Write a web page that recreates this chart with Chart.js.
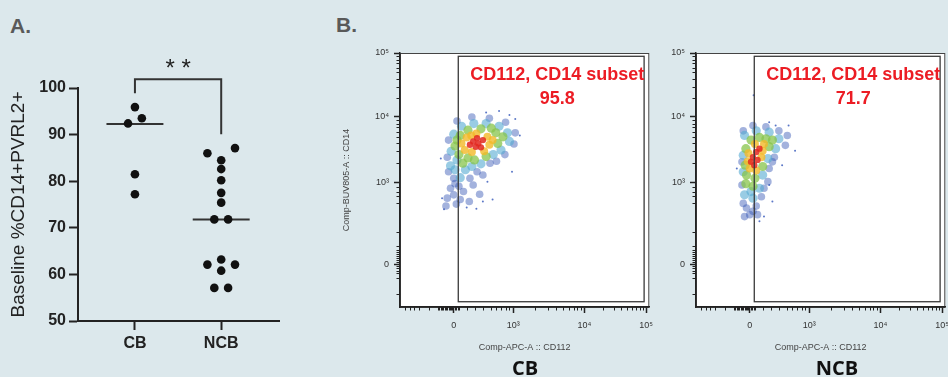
<!DOCTYPE html>
<html><head><meta charset="utf-8">
<script src="https://cdn.jsdelivr.net/npm/chart.js@4.4.1/dist/chart.umd.min.js"></script>
<style>
html,body{margin:0;padding:0;width:948px;height:377px;overflow:hidden;background:#dce8ec;font-family:"Liberation Sans",Arial,sans-serif;position:relative;}
canvas{position:absolute;top:0;}
.lbl{position:absolute;font-weight:bold;color:#595959;font-size:21px;line-height:24px;}
.grp{position:absolute;font-family:"Open Sans",sans-serif;font-weight:bold;font-size:20px;line-height:24px;color:#111;transform:translateX(-50%);white-space:nowrap;}
</style></head><body>
<div class="lbl" style="left:10px;top:14px">A.</div>
<div class="lbl" style="left:336px;top:13px">B.</div>
<canvas id="chartA" style="left:0px;width:330px;height:377px" width="330" height="377"></canvas>
<canvas id="chartCB" style="left:330px;width:330px;height:377px" width="330" height="377"></canvas>
<canvas id="chartNCB" style="left:626px;width:330px;height:377px" width="330" height="377"></canvas>
<div class="grp" style="left:525px;top:356px">CB</div>
<div class="grp" style="left:837px;top:356px">NCB</div>
<script>
// ---------- Panel A data ----------
const categories = ['CB', 'NCB'];
const cbValues  = [95.9, 93.5, 92.4, 81.5, 77.2];
const cbJitter  = [0, 0.08, -0.08, 0, 0];
const ncbValues = [87.1, 86.0, 84.5, 82.6, 80.2, 77.5, 75.4, 71.8, 71.8, 63.2, 62.1, 62.1, 60.8, 57.1, 57.1];
const ncbJitter = [0.16, -0.16, 0, 0, 0, 0, 0, -0.08, 0.08, 0, -0.16, 0.16, 0, -0.08, 0.08];
const medians   = [92.3, 71.8];
const yTicksA   = [50, 60, 70, 80, 90, 100];
const significance = '* *';
const bracketLevels = [101.9, 98.9, 90.1]; // top, CB end, NCB end

// ---------- Panel B data (axis in display decades) ----------
const flowTickValsX = [0, 0.92, 2.02, 2.97];
const flowTickValsY = [0, 1.23, 2.23, 3.2];
const flowTickLabels = ['0', '10³', '10⁴', '10⁵'];
const flowMinorX = [-0.76,-0.68,-0.61,-0.53,-0.38,-0.24,-0.22,-0.2,-0.18,-0.16,-0.14,-0.12,-0.1,-0.08,-0.06,-0.04,-0.02,0.02,0.04,0.06,0.08,
  0.2,0.33,0.45,0.58,0.65,0.73,0.8,0.86,1.25,1.45,1.58,1.69,1.78,1.85,1.91,1.97,2.31,2.47,2.59,2.68,2.76,2.82,2.88,2.93];
const flowMinorY = [-0.45,-0.21,-0.14,-0.1,-0.06,-0.03,0.03,0.06,0.09,0.12,0.15,0.18,0.22,0.27,0.49,0.92,1.03,1.1,1.17,
  1.53,1.71,1.83,1.93,2.01,2.08,2.13,2.18,2.52,2.69,2.81,2.91,2.98,3.05,3.1,3.15];
const flowXTitle = 'Comp-APC-A :: CD112';
const flowYTitle = 'Comp-BUV805-A :: CD14';
const gateName = 'CD112, CD14 subset';
const gateValues = ['95.8', '71.7'];
const gateBounds = [0.07, 2.94, -0.57, 3.15]; // xmin, xmax, ymin, ymax

const cbRed    = [[0.30,1.86],[0.38,1.83],[0.45,1.88],[0.34,1.78],[0.25,1.81],[0.42,1.77],[0.36,1.91]];
const cbYellow = [[0.20,1.92],[0.52,1.93],[0.55,1.81],[0.17,1.73],[0.28,1.70],[0.47,1.71],[0.35,1.98],[0.60,1.88],[0.12,1.83],[0.27,1.95]];
const cbGreen  = [[0.10,1.95],[0.65,1.99],[0.68,1.83],[0.08,1.66],[0.22,1.61],[0.50,1.63],[0.42,2.05],[0.22,2.03],[0.76,1.93],[0.02,1.79],[0.14,1.53],[0.58,2.06],[0.32,1.58],[0.05,1.88]];
const cbCyan   = [[0.00,1.97],[0.12,2.09],[0.31,2.13],[0.50,2.13],[0.70,2.09],[0.83,1.99],[0.86,1.86],[0.73,1.73],[0.61,1.66],[0.42,1.52],[0.05,1.58],[-0.04,1.71],[0.02,1.43],[0.18,1.43],[0.10,1.31],[-0.05,1.49],[0.28,1.48]];
const cbBlue   = [[-0.08,1.88],[0.05,2.17],[0.28,2.23],[0.55,2.21],[0.80,2.15],[0.95,1.99],[0.93,1.82],[0.79,1.66],[0.56,1.53],[0.36,1.40],[0.25,1.30],[0.00,1.30],[-0.08,1.40],[0.08,1.18],[-0.05,1.15],[0.15,1.10],[0.00,1.05],[-0.10,1.00],[0.10,0.98],[0.04,0.91],[-0.12,0.88],[0.24,0.95],[0.30,1.20],[0.45,1.35],[0.40,1.06],[0.66,1.56],[-0.10,1.62],[0.02,1.22]];
const cbSparse = [[-0.18,1.00],[0.45,0.95],[0.60,0.98],[0.90,1.40],[1.02,1.95],[0.70,2.32],[0.86,2.26],[-0.20,1.60],[0.20,0.86],[-0.15,0.83],[0.52,1.25],[0.35,0.84],[0.95,2.20],[0.50,2.30]];

const ncbRed    = [[0.05,1.62],[0.10,1.70],[0.02,1.55],[0.12,1.58],[0.07,1.50],[0.15,1.75]];
const ncbYellow = [[-0.02,1.68],[0.20,1.72],[0.18,1.62],[0.00,1.45],[0.10,1.42],[0.08,1.82],[0.22,1.82],[-0.03,1.56]];
const ncbGreen  = [[-0.06,1.75],[-0.07,1.50],[0.25,1.90],[0.30,1.78],[0.15,1.92],[-0.05,1.35],[0.08,1.30],[0.20,1.48],[0.02,1.88],[-0.06,1.22],[0.05,1.18],[0.35,1.88]];
const ncbCyan   = [[-0.08,1.95],[0.10,2.02],[0.30,2.00],[0.45,1.90],[0.40,1.75],[0.28,1.60],[0.20,1.35],[0.15,1.15],[-0.08,1.05],[0.05,1.00],[-0.10,1.40],[-0.10,1.65],[0.02,1.10]];
const ncbBlue   = [[-0.10,2.02],[0.05,2.10],[0.25,2.08],[0.45,2.02],[0.58,1.95],[0.55,1.80],[0.38,1.62],[0.30,1.45],[0.28,1.25],[0.18,1.02],[0.10,0.88],[-0.05,0.85],[-0.10,0.92],[0.00,0.75],[-0.08,0.72],[0.12,0.75],[-0.12,1.20],[-0.12,1.55],[0.22,1.15],[0.35,1.55],[0.05,0.80]];
const ncbSparse = [[-0.20,1.45],[0.40,2.10],[0.60,2.10],[0.70,1.72],[0.30,2.15],[0.22,0.72],[0.35,0.95],[0.30,1.20],[0.06,2.56],[0.50,1.50],[0.15,0.65]];

// ---------- styles ----------
const densityStyle = [
  {color:'rgba(226,40,30,0.85)', r:3.2},
  {color:'rgba(242,185,40,0.8)', r:4},
  {color:'rgba(135,196,75,0.75)', r:4.6},
  {color:'rgba(85,170,210,0.6)', r:4.6},
  {color:'rgba(50,85,180,0.45)', r:3.8},
  {color:'rgba(50,85,185,0.8)', r:1}
];

// ---------- Panel A ----------
const pts = (vals, jit, c) => vals.map((v, i) => ({x: c + jit[i], y: v}));
const bracketPlugin = {
  id: 'bracket',
  afterDraw(chart) {
    const {ctx, scales: {x, y}} = chart;
    const x0 = x.getPixelForValue(0), x1 = x.getPixelForValue(1);
    const yt = y.getPixelForValue(bracketLevels[0]);
    ctx.save();
    ctx.strokeStyle = '#333'; ctx.lineWidth = 2;
    ctx.beginPath();
    ctx.moveTo(x0, y.getPixelForValue(bracketLevels[1]));
    ctx.lineTo(x0, yt); ctx.lineTo(x1, yt);
    ctx.lineTo(x1, y.getPixelForValue(bracketLevels[2]));
    ctx.stroke();
    ctx.fillStyle = '#222'; ctx.font = '24px "Liberation Sans"';
    ctx.textAlign = 'center'; ctx.textBaseline = 'middle';
    ctx.fillText(significance, (x0 + x1) / 2, yt - 10);
    ctx.restore();
  }
};
new Chart(document.getElementById('chartA'), {
  type: 'scatter',
  data: {datasets: [
    {data: pts(cbValues, cbJitter, 0), backgroundColor: '#111', pointRadius: 4.3, borderWidth: 0},
    {data: pts(ncbValues, ncbJitter, 1), backgroundColor: '#111', pointRadius: 4.3, borderWidth: 0},
    {type: 'line', data: [{x: -0.33, y: medians[0]}, {x: 0.33, y: medians[0]}], borderColor: '#333', borderWidth: 2, pointRadius: 0},
    {type: 'line', data: [{x: 0.67, y: medians[1]}, {x: 1.33, y: medians[1]}], borderColor: '#333', borderWidth: 2, pointRadius: 0}
  ]},
  options: {
    responsive: false, animation: false, devicePixelRatio: 1,
    layout: {padding: {top: 88, right: 51, left: 0, bottom: 0}},
    plugins: {legend: {display: false}, tooltip: {enabled: false}},
    scales: {
      x: {type: 'linear', min: -0.66, max: 1.67,
        afterBuildTicks: s => { s.ticks = categories.map((c, i) => ({value: i})); },
        afterFit: s => { s.height = 56; },
        ticks: {callback: v => categories[v], font: {family: 'Liberation Sans', size: 16, weight: 'bold'}, color: '#222', padding: 4, autoSkip: false, maxRotation: 0},
        grid: {drawOnChartArea: false, tickLength: 9, tickColor: '#222', tickWidth: 2},
        border: {color: '#222', width: 2}},
      y: {min: 50, max: 100,
        afterBuildTicks: s => { s.ticks = yTicksA.map(v => ({value: v})); },
        afterFit: s => { s.width = 78; },
        ticks: {font: {family: 'Liberation Sans', size: 16, weight: 'bold'}, color: '#222', padding: 3},
        grid: {drawOnChartArea: false, tickLength: 9, tickColor: '#222', tickWidth: 2},
        border: {color: '#222', width: 2},
        title: {display: true, text: 'Baseline %CD14+PVRL2+', font: {family: 'Liberation Sans', size: 19}, color: '#222', padding: {top: 7, bottom: 0}}}
    }
  },
  plugins: [bracketPlugin]
});

// ---------- Panel B ----------
function flowChart(id, layers, value, showYTitle) {
  const datasets = layers.map((L, i) => ({
    data: L.map(p => ({x: p[0], y: p[1]})),
    backgroundColor: densityStyle[i].color, pointRadius: densityStyle[i].r, borderWidth: 0, pointHoverRadius: densityStyle[i].r
  }));
  const flowPlugin = {
    id: 'flow' + id,
    beforeDraw(chart) {
      const {ctx, chartArea: a} = chart;
      ctx.save(); ctx.fillStyle = '#fff'; ctx.fillRect(a.left, a.top, a.right - a.left, a.bottom - a.top);
      ctx.strokeStyle = '#444'; ctx.lineWidth = 1; ctx.strokeRect(a.left + 0.5, a.top + 0.5, a.right - a.left - 1, a.bottom - a.top);
      ctx.restore();
    },
    afterDatasetsDraw(chart) {
      const {ctx, scales: {x, y}} = chart;
      const x0 = x.getPixelForValue(gateBounds[0]), x1 = x.getPixelForValue(gateBounds[1]);
      const y0 = y.getPixelForValue(gateBounds[2]), y1 = y.getPixelForValue(gateBounds[3]);
      ctx.save();
      ctx.strokeStyle = '#3a3a3a'; ctx.lineWidth = 1.3;
      ctx.strokeRect(x0, y1, x1 - x0, y0 - y1);
      ctx.fillStyle = '#ec1c24'; ctx.font = 'bold 18px "Liberation Sans"';
      ctx.textAlign = 'center'; ctx.textBaseline = 'middle';
      const cx = (x0 + x1) / 2 + 6;
      ctx.fillText(gateName, cx, y1 + 19);
      ctx.fillText(value, cx, y1 + 43);
      ctx.restore();
    },
    afterDraw(chart) {
      const {ctx, scales: {x, y}, chartArea: a} = chart;
      ctx.save(); ctx.strokeStyle = '#222'; ctx.lineWidth = 1;
      ctx.beginPath();
      flowMinorX.forEach(v => { const p = Math.round(x.getPixelForValue(v)) + 0.5; ctx.moveTo(p, a.bottom); ctx.lineTo(p, a.bottom + 3.5); });
      flowMinorY.forEach(v => { const p = Math.round(y.getPixelForValue(v)) + 0.5; ctx.moveTo(a.left, p); ctx.lineTo(a.left - 3.5, p); });
      ctx.stroke(); ctx.restore();
    }
  };
  const tickFont = {family: 'Liberation Sans', size: 9};
  return new Chart(document.getElementById(id), {
    type: 'scatter',
    data: {datasets},
    options: {
      responsive: false, animation: false, devicePixelRatio: 1,
      layout: {padding: {top: 53, right: 6, left: 0, bottom: 0}},
      plugins: {legend: {display: false}, tooltip: {enabled: false}},
      scales: {
        x: {type: 'linear', min: -0.83, max: 3.02,
          afterBuildTicks: s => { s.ticks = flowTickValsX.map(v => ({value: v})); },
          afterFit: s => { s.height = 70; },
          ticks: {callback: (v, i) => flowTickLabels[i], font: tickFont, color: '#333', padding: 7, autoSkip: false, maxRotation: 0},
          grid: {drawOnChartArea: false, tickLength: 6, tickColor: '#222', tickWidth: 1.5},
          border: {color: '#222', width: 1.5},
          title: {display: true, text: flowXTitle, font: tickFont, color: '#444', padding: {top: 0, bottom: 24}}},
        y: {type: 'linear', min: -0.65, max: 3.2,
          afterBuildTicks: s => { s.ticks = flowTickValsY.map(v => ({value: v})); },
          afterFit: s => { s.width = 70; },
          ticks: {callback: (v, i) => flowTickLabels[i], font: tickFont, color: '#333', padding: 5},
          grid: {drawOnChartArea: false, tickLength: 6, tickColor: '#222', tickWidth: 1.5},
          border: {color: '#222', width: 1.5},
          title: {display: showYTitle, text: flowYTitle, font: tickFont, color: '#444', padding: {top: 11, bottom: 0}}}
      }
    },
    plugins: [flowPlugin]
  });
}
flowChart('chartCB', [cbRed, cbYellow, cbGreen, cbCyan, cbBlue, cbSparse], gateValues[0], true);
flowChart('chartNCB', [ncbRed, ncbYellow, ncbGreen, ncbCyan, ncbBlue, ncbSparse], gateValues[1], false);
</script>
</body></html>
